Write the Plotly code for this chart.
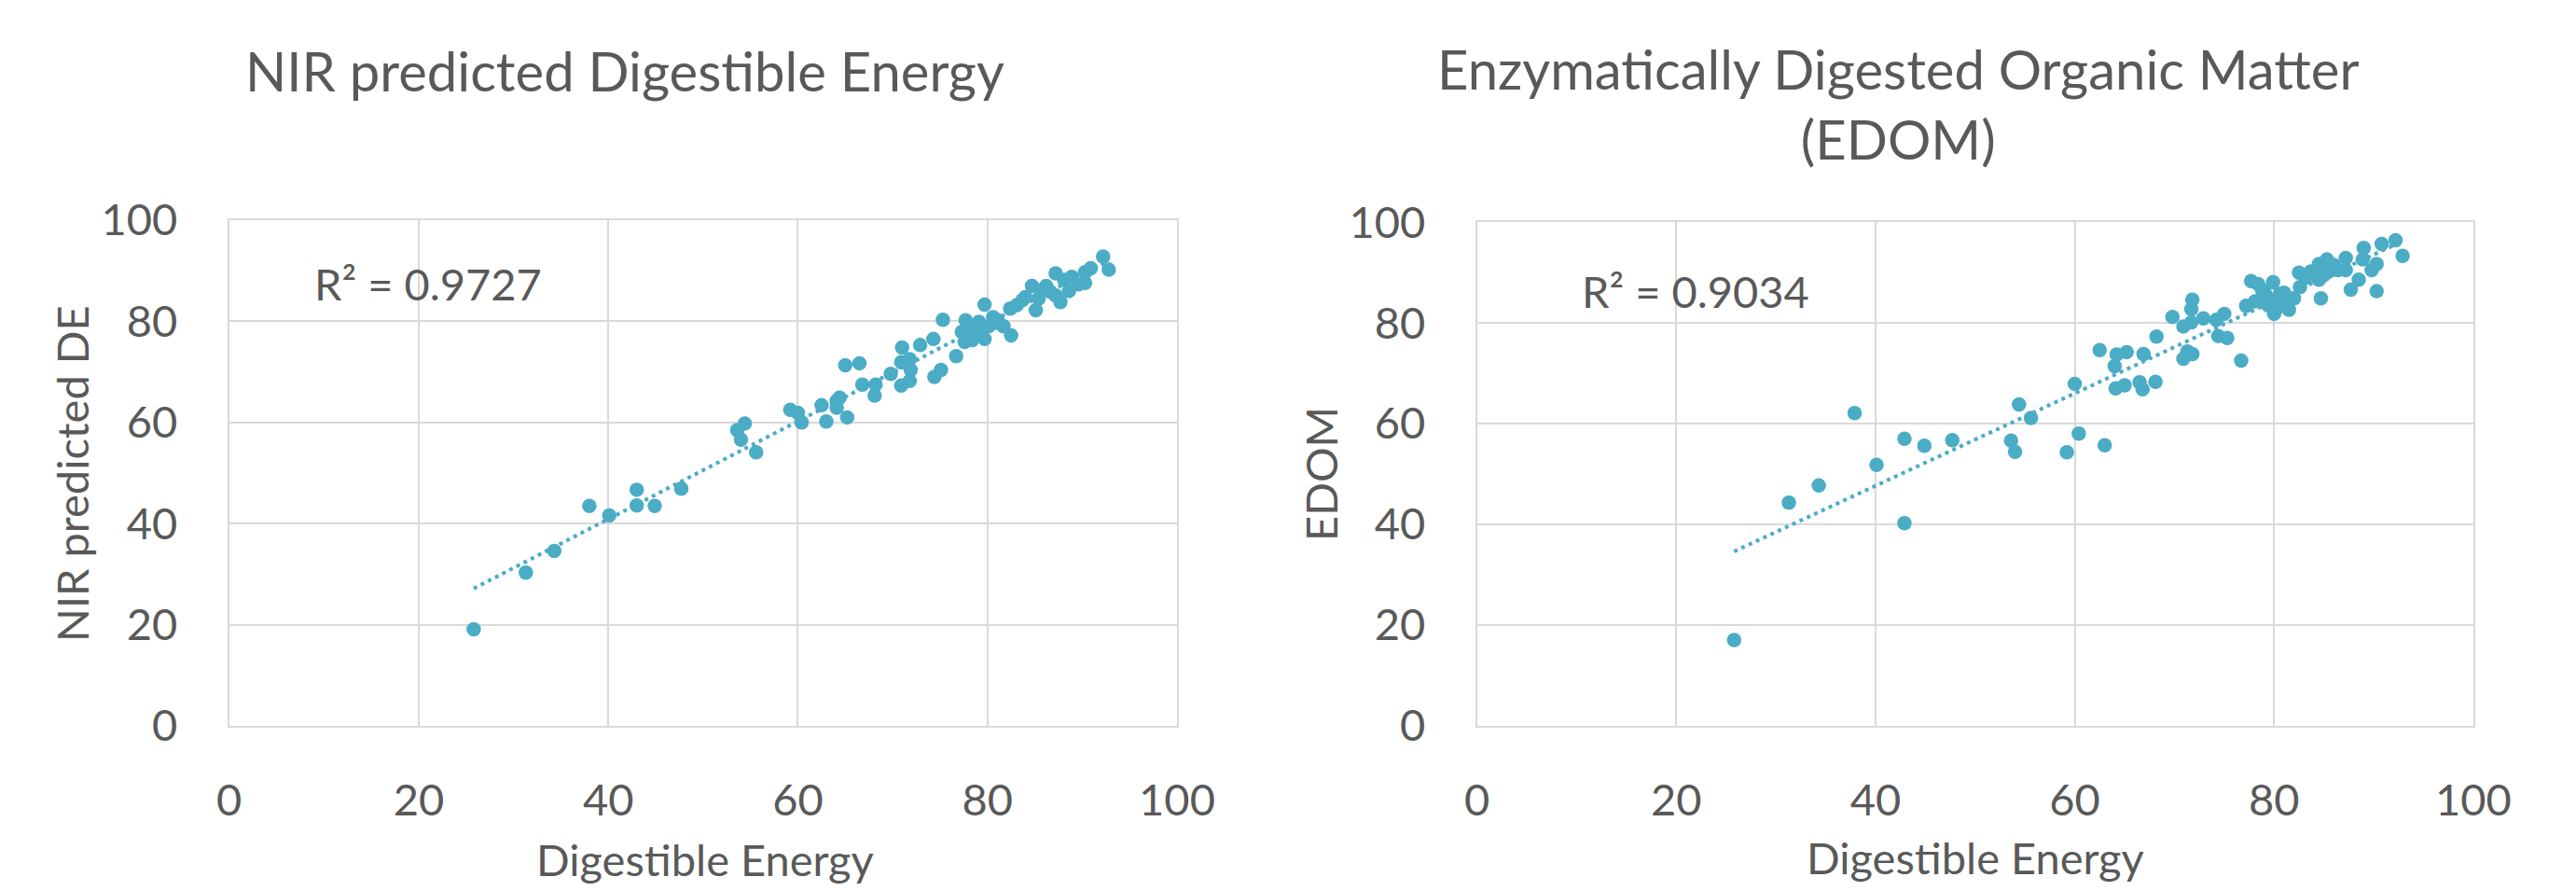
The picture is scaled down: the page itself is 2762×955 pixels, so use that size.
import numpy as np
import plotly.graph_objects as go

# ---- Data: left chart (Digestible Energy vs NIR predicted DE) ----
de_left = [25.8, 31.3, 34.3, 38.0, 40.1, 43.0, 43.0, 44.9, 47.7, 53.6, 54.4, 54.0, 55.6,
           59.2, 60.0, 60.4, 62.5, 63.0, 64.1, 64.4, 64.1, 65.2, 65.0, 66.5, 66.8, 68.2,
           68.1, 69.8, 71.0, 70.9, 71.8, 71.9, 71.8, 70.9, 72.9, 74.3, 75.3, 74.4, 75.1,
           76.7, 77.3, 77.7, 77.6, 78.5, 78.1, 79.1, 79.7, 79.7, 80.1, 80.6, 81.1, 81.7,
           82.5, 82.4, 83.1, 83.7, 84.7, 85.1, 85.4, 86.2, 87.2, 87.2, 87.7, 88.1, 88.9,
           88.6, 89.6, 90.3, 90.3, 90.9, 92.2, 92.8, 78.4, 79.3, 80.8, 84.0, 86.6, 85.8]
nir_de = [19.1, 30.3, 34.6, 43.5, 41.6, 46.7, 43.6, 43.5, 46.9, 58.5, 59.8, 56.6, 54.1,
          62.5, 61.9, 60.0, 63.4, 60.2, 64.3, 64.9, 62.9, 61.0, 71.3, 71.7, 67.5, 67.5,
          65.3, 69.6, 74.8, 71.9, 72.5, 70.4, 68.2, 67.3, 75.3, 76.5, 80.3, 69.0, 70.4,
          73.1, 77.9, 80.2, 75.9, 79.0, 77.1, 79.9, 83.3, 76.5, 79.0, 80.8, 80.2, 79.0,
          77.2, 82.5, 83.2, 84.2, 87.0, 82.2, 84.5, 87.0, 89.5, 85.1, 83.8, 88.2, 88.8,
          86.0, 87.3, 87.6, 89.7, 90.5, 92.8, 90.2, 76.3, 78.4, 79.7, 84.8, 85.9, 86.1]

# ---- Data: right chart (Digestible Energy vs EDOM) ----
de_right = [25.8, 31.3, 34.3, 37.9, 40.1, 42.9, 42.9, 44.9, 47.7, 53.6, 54.0, 54.4, 55.6,
            59.2, 60.0, 60.4, 63.0, 62.5, 64.0, 64.2, 65.2, 64.1, 65.0, 66.5, 66.8, 66.9,
            68.1, 68.2, 69.8, 70.9, 71.8, 71.7, 71.7, 70.9, 71.3, 71.8, 72.9, 74.2, 75.0,
            74.4, 75.3, 76.7, 77.2, 77.7, 78.4, 78.1, 79.1, 79.9, 80.0, 79.7, 80.6, 80.9,
            81.5, 82.0, 82.5, 82.6, 83.7, 84.7, 84.5, 84.5, 85.3, 85.5, 86.4, 87.2, 87.2,
            87.7, 88.5, 88.9, 89.0, 89.8, 90.3, 90.3, 90.8, 92.2, 92.9,
            78.8, 79.4, 80.3, 81.0, 83.2, 86.0, 85.0]
edom = [17.0, 44.3, 47.7, 62.1, 51.8, 57.0, 40.2, 55.6, 56.7, 56.6, 54.4, 63.8, 61.1,
        54.3, 67.9, 58.0, 55.7, 74.6, 71.4, 73.7, 74.2, 67.0, 67.6, 68.2, 66.8, 73.8,
        68.3, 77.3, 81.2, 79.3, 84.6, 82.7, 80.1, 72.9, 74.3, 73.8, 80.9, 80.6, 81.8,
        77.4, 77.0, 72.5, 83.4, 88.3, 87.7, 84.3, 85.8, 88.1, 81.8, 84.6, 85.8, 84.6,
        82.6, 84.9, 90.0, 87.1, 90.2, 84.9, 88.6, 91.7, 92.6, 90.2, 90.5, 92.9, 90.5,
        86.6, 88.6, 92.6, 94.9, 90.5, 91.7, 86.3, 95.7, 96.4, 93.3,
        86.5, 83.5, 83.0, 86.0, 89.0, 91.5, 89.5]

r2_left_label = "R² = 0.9727"
r2_right_label = "R² = 0.9034"
axis_ticks = [0, 20, 40, 60, 80, 100]

COLOR = "#4bacc6"
TXT = "#595959"
GRID = "#d9d9d9"
FONT = "Lato, Liberation Sans, sans-serif"
W, H = 2762, 955


def trend(x, y):
    x = np.asarray(x, float)
    y = np.asarray(y, float)
    m, b = np.polyfit(x, y, 1)
    xs = np.array([x.min(), x.max()])
    return xs, m * xs + b


fig = go.Figure()
for xdata, ydata, xa, ya in [(de_left, nir_de, "x", "y"), (de_right, edom, "x2", "y2")]:
    tx, ty = trend(xdata, ydata)
    fig.add_trace(go.Scatter(x=tx, y=ty, mode="lines", xaxis=xa, yaxis=ya,
                             line=dict(color=COLOR, width=4, dash="4px,4.6px"),
                             hoverinfo="skip", showlegend=False))
    fig.add_trace(go.Scatter(x=xdata, y=ydata, mode="markers", xaxis=xa, yaxis=ya,
                             marker=dict(color=COLOR, size=15.5, line=dict(width=0)),
                             showlegend=False))


def px(v):
    return v / W


def py(v):
    return 1 - v / H


axis_common = dict(range=[0, 100], tickvals=axis_ticks, showgrid=True, gridcolor=GRID,
                   gridwidth=2, zeroline=False, showline=True, linecolor=GRID, linewidth=2,
                   mirror=True, ticks="", tickfont=dict(family=FONT, size=47, color=TXT),
                   fixedrange=True, automargin=False)

fig.update_layout(
    width=W, height=H, margin=dict(l=0, r=0, t=0, b=0, autoexpand=False),
    paper_bgcolor="white", plot_bgcolor="white",
    xaxis=dict(domain=[px(245.7), px(1262)], anchor="y", ticklabelstandoff=38, **axis_common),
    yaxis=dict(domain=[py(778), py(236)], anchor="x", ticklabelstandoff=44, **axis_common),
    xaxis2=dict(domain=[px(1583.7), px(2651.9)], anchor="y2", ticklabelstandoff=38, **axis_common),
    yaxis2=dict(domain=[py(777.7), py(238.2)], anchor="x2", ticklabelstandoff=44, **axis_common),
)

ann_font = dict(family=FONT, size=47, color=TXT)
title_font = dict(family=FONT, size=58, color=TXT)
annotations = [
    dict(text="NIR predicted Digestible Energy", x=px(670), y=py(75), xref="paper", yref="paper",
         xanchor="center", yanchor="middle", showarrow=False, font=title_font),
    dict(text="Enzymatically Digested Organic Matter<br>(EDOM)", x=px(2035), y=py(111),
         xref="paper", yref="paper", xanchor="center", yanchor="middle", showarrow=False,
         font=title_font),
    dict(text="Digestible Energy", x=px(756), y=py(921), xref="paper", yref="paper",
         xanchor="center", yanchor="middle", showarrow=False, font=ann_font),
    dict(text="Digestible Energy", x=px(2118), y=py(919), xref="paper", yref="paper",
         xanchor="center", yanchor="middle", showarrow=False, font=ann_font),
    dict(text="NIR predicted DE", x=px(77), y=py(508), xref="paper", yref="paper",
         xanchor="center", yanchor="middle", textangle=-90, showarrow=False, font=ann_font),
    dict(text="EDOM", x=px(1416), y=py(508), xref="paper", yref="paper",
         xanchor="center", yanchor="middle", textangle=-90, showarrow=False, font=ann_font),
    dict(text=r2_left_label, x=8.8, y=87.4, xref="x", yref="y", xanchor="left",
         yanchor="middle", showarrow=False, font=ann_font),
    dict(text=r2_right_label, x=10.3, y=86.4, xref="x2", yref="y2", xanchor="left",
         yanchor="middle", showarrow=False, font=ann_font),
]
fig.update_layout(annotations=annotations)

fig.write_html("out.html")
